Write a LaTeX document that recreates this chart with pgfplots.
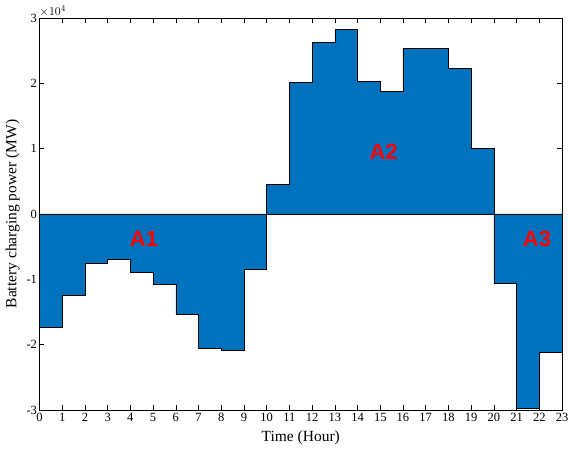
\documentclass[border=0pt]{standalone}
\usepackage{pgfplots}
\pgfplotsset{compat=1.18}
\usepackage{fontspec}
\setmainfont{Liberation Serif}
\newfontfamily\arialfont{Liberation Sans}
\definecolor{mblue}{RGB}{0,114,189}
\begin{document}
\begin{tikzpicture}
\useasboundingbox (-39.5pt,-39pt) rectangle (528.5pt,410pt);
\begin{axis}[
  at={(0,0)}, anchor=south west,
  scale only axis, width=522.5pt, height=392pt,
  xmin=0, xmax=23, ymin=-3, ymax=3,
  xtick={0,1,...,23}, ytick={-3,-2,-1,0,1,2,3},
  tick align=inside, major tick length=5pt,
  tick style={black, line width=0.6pt},
  axis line style={line width=0.6pt},
  /pgf/number format/assume math mode=true,
  ticklabel style={font=\fontsize{12.5}{14}\selectfont},
  xticklabel style={yshift=0pt},
  yticklabel style={xshift=1pt},
  xlabel={Time (Hour)}, ylabel={Battery charging power (MW)},
  label style={font=\fontsize{15.5}{17}\selectfont},
  xlabel style={yshift=-2pt},
  ylabel style={yshift=0pt},
  clip=false,
]
\addplot[const plot, fill=mblue, draw=black, line width=0.6pt] coordinates {
(0,-1.74) (1,-1.24) (2,-0.75) (3,-0.70) (4,-0.89) (5,-1.08) (6,-1.53) (7,-2.06)
(8,-2.09) (9,-0.84) (10,0.45) (11,2.01) (12,2.63) (13,2.82) (14,2.03) (15,1.88)
(16,2.53) (17,2.54) (18,2.23) (19,1.01) (20,-1.06) (21,-2.97) (22,-2.11) (23,-2.11)
} \closedcycle;
\addplot[black, line width=0.6pt] coordinates {(0,0) (23,0)};
\node[anchor=south west, inner sep=0pt, yshift=1pt, font=\fontsize{12.5}{13}\selectfont] at (rel axis cs:0,1) {$\times10^4$};
\node[red, font=\arialfont\bfseries\fontsize{22}{24}\selectfont] at (axis cs:4.6,-0.38) {A1};
\node[red, font=\arialfont\bfseries\fontsize{22}{24}\selectfont] at (axis cs:15.15,0.95) {A2};
\node[red, font=\arialfont\bfseries\fontsize{22}{24}\selectfont] at (axis cs:21.9,-0.38) {A3};
\end{axis}
\end{tikzpicture}
\end{document}
